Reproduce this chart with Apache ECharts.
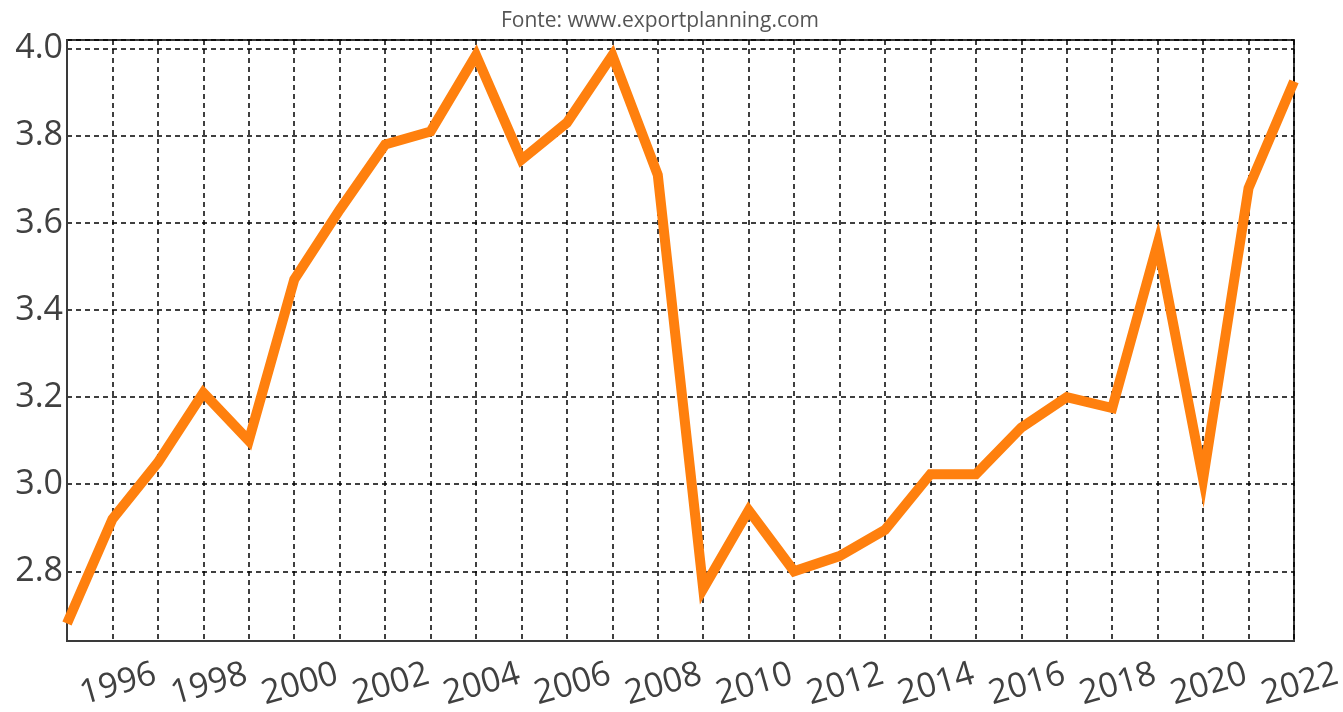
<!DOCTYPE html>
<html>
<head>
<meta charset="utf-8">
<script src="https://cdn.jsdelivr.net/npm/echarts@6/dist/echarts.min.js"></script>
<style>
  html, body { margin: 0; padding: 0; background: #ffffff; }
  #chart { width: 1343px; height: 712px; }
</style>
</head>
<body>
<div id="chart"></div>
<script>
const years = ['1995','1996','1997','1998','1999','2000','2001','2002','2003','2004','2005','2006','2007','2008',
               '2009','2010','2011','2012','2013','2014','2015','2016','2017','2018','2019','2020','2021','2022'];
const values = [2.68, 2.92, 3.05, 3.21, 3.10, 3.47, 3.63, 3.78, 3.81, 3.985, 3.745, 3.83, 3.985, 3.71,
                2.76, 2.94, 2.80, 2.835, 2.895, 3.023, 3.023, 3.13, 3.20, 3.175, 3.553, 3.012, 3.68, 3.925];
const sourceText = 'Fonte: www.exportplanning.com';
const yMin = 2.64;
const yMax = 4.02;

const chart = echarts.init(document.getElementById('chart'));
const labelFont = "'Open Sans', 'Noto Sans', sans-serif";
chart.setOption({
  animation: false,
  backgroundColor: '#ffffff',
  title: {
    text: sourceText,
    left: 655,
    top: 6,
    textAlign: 'center',
    textStyle: { fontFamily: labelFont, fontSize: 21, fontWeight: 'normal', color: '#555555' }
  },
  grid: {
    left: 67, right: 49, top: 40, bottom: 71,
    containLabel: false,
    outerBoundsMode: 'none',
    show: true, borderColor: '#3a3a3a', borderWidth: 2, backgroundColor: 'transparent'
  },
  xAxis: {
    type: 'category',
    data: years,
    boundaryGap: false,
    axisLine: { show: true, lineStyle: { color: '#3a3a3a', width: 2 } },
    axisTick: { show: false },
    splitLine: { show: true, interval: 0, lineStyle: { color: '#000000', type: [5, 4], width: 1.5 } },
    axisLabel: {
      interval: function (idx, val) { return Number(val) % 2 === 0; },
      rotate: 16,
      align: 'center',
      verticalAlign: 'middle',
      margin: 45,
      padding: [0, 0, 0, 12],
      fontFamily: labelFont,
      fontSize: 34,
      color: '#404040'
    }
  },
  yAxis: {
    type: 'value',
    min: yMin,
    max: yMax,
    splitNumber: 7,
    axisLine: { show: true, lineStyle: { color: '#3a3a3a', width: 2 } },
    axisTick: { show: false },
    splitLine: { show: true, lineStyle: { color: '#000000', type: [5, 4], width: 1.5 } },
    axisLabel: {
      margin: 4,
      fontFamily: labelFont,
      fontSize: 34,
      color: '#404040',
      formatter: function (v) {
        return Math.abs(v * 5 - Math.round(v * 5)) < 1e-6 ? v.toFixed(1) : '';
      }
    }
  },
  series: [{
    type: 'line',
    data: values,
    showSymbol: false,
    symbol: 'none',
    lineStyle: { color: '#ff800e', width: 10, join: 'miter', miterLimit: 10, cap: 'butt' },
    clip: true
  }]
});
</script>
</body>
</html>
